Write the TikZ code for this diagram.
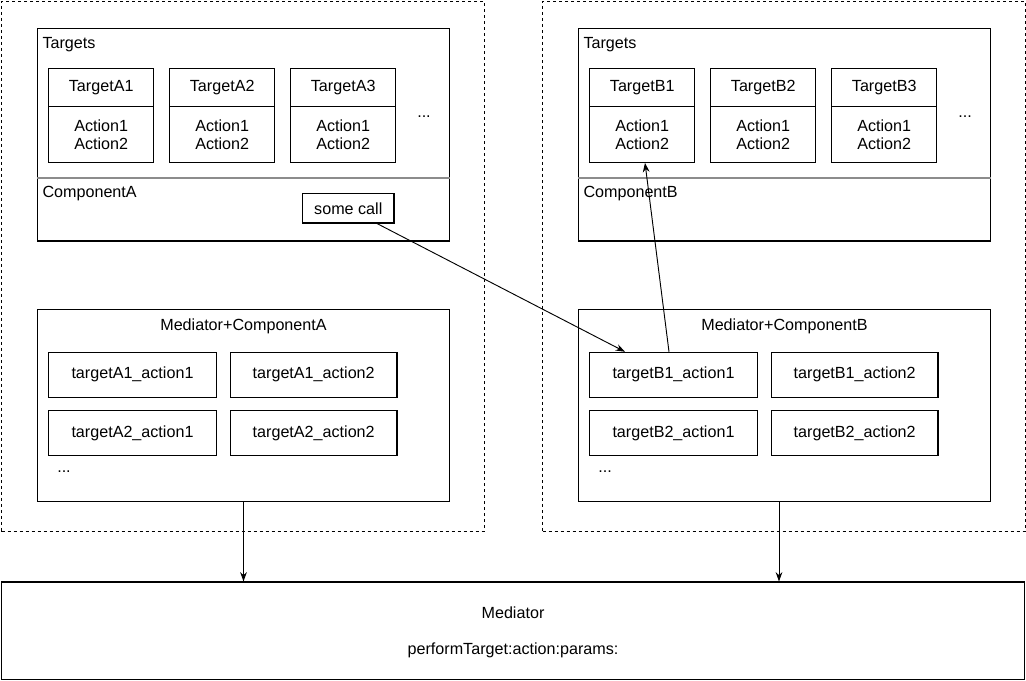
\documentclass[tikz,border=0pt]{standalone}
\usepackage{fontspec}
\setmainfont{Liberation Sans}
\usetikzlibrary{fit,arrows.meta}
\begin{document}
\begin{tikzpicture}[x=0.75pt,y=-0.75pt, line width=0.8pt,
 box/.style={draw, inner sep=0pt, fit={#1}},
 dbox/.style={draw, dash pattern=on 2.5pt off 2pt, line width=0.7pt, inner sep=0pt, fit={#1}},
 sep/.style={draw=black!45, line width=1pt},
 lbl/.style={font=\fontsize{12.1}{13.5}\selectfont, inner sep=0pt, align=center},
 arr/.style={-{Stealth[length=7pt,width=5pt]}, line width=0.7pt}]
\useasboundingbox (0,0) rectangle (1026,681);
\foreach \s/\o in {A/0,B/541}{
  \node[dbox={({\o+1.5},1.5) ({\o+484.5},531)}] (dash\s) {};
  \node[box={({\o+37.5},28.5) ({\o+449.5},241)}] (comp\s) {};
  \draw[sep] (comp\s.west |- 0,178) -- (comp\s.east |- 0,178);
  \node[lbl,anchor=west] (tl\s) at ({\o+42},44.5) {Targets};
  \node[lbl,anchor=west] (cl\s) at ({\o+42},193.5) {Component\s};
  \foreach \i/\x in {1/48.7,2/169.7,3/290.7}{
    \node[box={({\o+\x},68.7) ({\o+\x+105},162.3)}] (t\s\i) {};
    \draw (t\s\i.west |- 0,106.7) -- (t\s\i.east |- 0,106.7);
    \node[lbl] (tn\s\i) at ({\o+\x+52.5},88) {Target\s\i};
    \node[lbl] (ta\s\i) at ({\o+\x+52.5},134.5) {Action1\\Action2};
  }
  \node[lbl] (td\s) at ({\o+424},117) {...};
  \node[box={({\o+37.5},309.5) ({\o+449.5},501.5)}] (med\s) {};
  \node[lbl] (mt\s) at ({\o+243.5},326) {Mediator+Component\s};
  \foreach \r/\y in {1/352.3,2/410.7}{
    \node[box={({\o+48.7},\y) ({\o+216.3},{\y+45})}] (a\s\r1) {};
    \node[lbl] (at\s\r1) at ({\o+132.5},{\y+22.5}) {target\s\r\_action1};
    \node[box={({\o+230.3},\y) ({\o+397},{\y+45})}] (a\s\r2) {};
    \node[lbl] (at\s\r2) at ({\o+313.7},{\y+22.5}) {target\s\r\_action2};
  }
  \node[lbl] (md\s) at ({\o+64},472) {...};
}
\node[box={(302.7,193.3) (394,223)}] (call) {};
\node[lbl] (calltxt) at (348.3,208.3) {some call};
\node[box={(1.5,582) (1024.5,679.5)}] (mediator) {};
\node[lbl] (medtxt) at (513,613) {Mediator};
\node[lbl] (medfn) at (513,650) {performTarget:action:params:};
\draw[arr] (medA.south) -- (medA.south |- mediator.north);
\draw[arr] (medB.south -| 779,0) -- (mediator.north -| 779,0);
\draw[arr] (call.south -| 377,0) -- (aB11.north -| 625,0);
\draw[arr] (aB11.north -| 669,0) -- (tB1.south -| 645,0);
\end{tikzpicture}
\end{document}
